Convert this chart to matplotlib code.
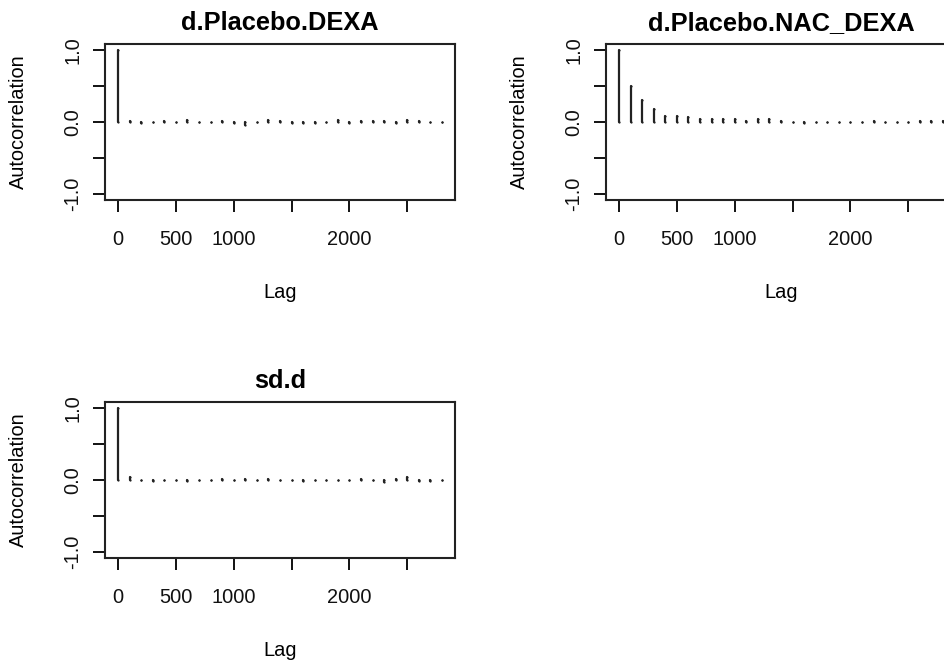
import numpy as np
import matplotlib
matplotlib.use('Agg')
import matplotlib.pyplot as plt

plt.rcParams['font.family'] = ['Liberation Sans', 'DejaVu Sans']

# lags of the autocorrelation (0 .. 2800 by 100)
lags = list(range(0, 2900, 100))

# autocorrelation values
acf_dexa = [1.0, 0.015, -0.015, 0.005, 0.015, 0.005, 0.03, 0.005, 0.005, 0.015,
            -0.015, -0.035, 0.005, 0.03, 0.02, -0.02, -0.015, -0.015, 0.005, 0.03,
            -0.02, 0.02, 0.02, 0.02, -0.02, 0.03, 0.02, 0.005, 0.005]
acf_nac_dexa = [1.0, 0.50, 0.31, 0.18, 0.09, 0.085, 0.065, 0.045, 0.045, 0.045,
                0.045, 0.02, 0.045, 0.04, 0.01, 0.0, -0.02, 0.0, 0.0, 0.0,
                0.0, 0.0, 0.015, 0.0, 0.0, 0.0, 0.015, 0.015, 0.015]
acf_sd = [1.0, 0.04, 0.0, -0.015, 0.0, 0.0, -0.01, 0.0, 0.0, 0.015,
          0.0, 0.02, 0.0, 0.015, 0.0, 0.0, -0.015, 0.0, 0.0, 0.0,
          0.0, 0.02, 0.0, -0.03, 0.02, 0.035, -0.01, -0.01, 0.0]

titles = ['d.Placebo.DEXA', 'd.Placebo.NAC_DEXA', 'sd.d']
series = [acf_dexa, acf_nac_dexa, acf_sd]

x_ticks = [0, 500, 1000, 1500, 2000, 2500]
x_labels = ['0', '500', '1000', '', '2000', '']
y_ticks = [-1.0, -0.5, 0.0, 0.5, 1.0]
y_labels = ['-1.0', '', '0.0', '', '1.0']

W, H = 945, 663
fig = plt.figure(figsize=(W / 100, H / 100), dpi=100)

# axes boxes in pixels: left, top, width, height
boxes = [(105, 44, 350, 156), (606, 44, 350, 156), (105, 402, 350, 156)]

bar_col = '#222222'
lw = 1.6

for (left, top, w, h), title, acf in zip(boxes, titles, series):
    ax = fig.add_axes([left / W, (H - top - h) / H, w / W, h / H])
    ax.vlines(lags, 0, acf, colors=bar_col, linewidth=lw, capstyle='round')
    # round ends, so that near-zero lags still show as dots (as in R)
    ax.scatter(lags, [0] * len(lags), s=lw ** 2, color=bar_col, linewidths=0)
    ax.scatter(lags, acf, s=lw ** 2, color=bar_col, linewidths=0)
    ax.set_xlim(-112, 2912)
    ax.set_ylim(-1.08, 1.08)
    ax.set_xticks(x_ticks)
    ax.set_xticklabels(x_labels)
    ax.set_yticks(y_ticks)
    ax.set_yticklabels(y_labels, rotation=90, va='center')
    ax.tick_params(direction='out', length=8.5, width=1.4, labelsize=14.4,
                   colors='#111111')
    ax.tick_params(axis='x', pad=13)
    ax.tick_params(axis='y', pad=8)
    for sp in ax.spines.values():
        sp.set_linewidth(1.5)
        sp.set_color('#222222')
    ax.set_xlabel('Lag', fontsize=14.4)
    ax.xaxis.set_label_coords(0.5, -92 / h)
    ax.xaxis.label.set_va('center')
    ax.set_ylabel('Autocorrelation', fontsize=14.4)
    ax.yaxis.set_label_coords(-87 / w, 0.5)
    ax.yaxis.label.set_va('center')
    ax.set_title(title, fontsize=18.3, fontweight='bold', y=1 + 21 / h,
                 pad=0, va='center')

fig.savefig('out.png', dpi=100)
